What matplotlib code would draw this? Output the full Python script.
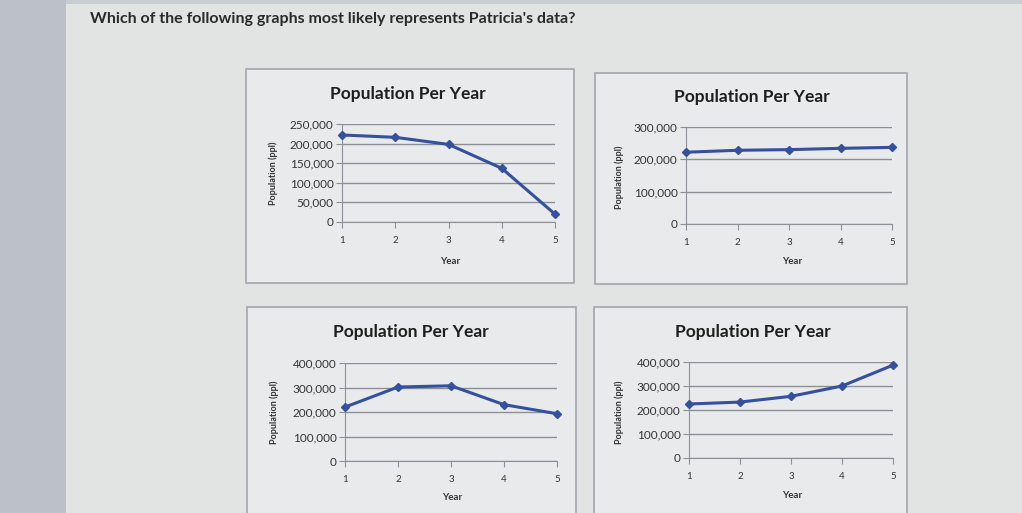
import matplotlib
matplotlib.use("Agg")
import matplotlib.pyplot as plt
from matplotlib.patches import Rectangle
from matplotlib.ticker import FuncFormatter

W, H = 1022, 513

years = [1, 2, 3, 4, 5]
pop_a = [222000, 216000, 198000, 137000, 20000]
pop_b = [222000, 228000, 230000, 234000, 237000]
pop_c = [220000, 302000, 307000, 230000, 193000]
pop_d = [225000, 233000, 257000, 300000, 387000]

question = "Which of the following graphs most likely represents Patricia's data?"
chart_title = "Population Per Year"
y_label = "Population (ppl)"
x_label = "Year"

LINE_BLUE = "#34509e"
GRID = "#8c9096"
PAGE = "#e2e3e3"
PANEL = "#e9eaeb"

plt.rcParams['font.family'] = ['Lato', 'DejaVu Sans']


def fx(px):
    return px / W


def fy(py):
    return 1 - py / H


def add_panel(fig, box, plot, data, ymax, ystep, title_xy, ylab_xy, xlab_xy):
    # box / plot: (left, top, right, bottom) in pixels
    l, t, r, b = box
    fig.add_artist(Rectangle((fx(l), fy(b)), fx(r - l), (b - t) / H,
                             transform=fig.transFigure, facecolor=PANEL,
                             edgecolor="#a2a6ab", linewidth=1.2, zorder=0))
    l, t, r, b = plot
    ax = fig.add_axes([fx(l), fy(b), fx(r - l), (b - t) / H])
    ax.set_facecolor("none")
    ax.plot(years, data, color=LINE_BLUE, linewidth=2.2, marker="D",
            markersize=4.5, clip_on=False, zorder=3)
    ax.set_xlim(1, 5)
    ax.set_ylim(0, ymax)
    ax.set_yticks(range(0, ymax + 1, ystep))
    ax.set_xticks(years)
    ax.yaxis.set_major_formatter(FuncFormatter(lambda v, p: f"{int(v):,}"))
    ax.grid(axis="y", color=GRID, linewidth=1.0)
    ax.set_axisbelow(True)
    for side in ("top", "right"):
        ax.spines[side].set_visible(False)
    ax.spines["left"].set_color(GRID)
    ax.spines["bottom"].set_color(GRID)
    ax.tick_params(axis="y", length=4, color=GRID, labelsize=8.5,
                   labelcolor="#333333", pad=2)
    ax.tick_params(axis="x", length=4, color=GRID, labelsize=7,
                   labelcolor="#333333", pad=6)
    fig.text(fx(title_xy[0]), fy(title_xy[1]), chart_title, ha="center",
             va="center", fontsize=12.5, fontweight="bold", color="#1e1e1e")
    fig.text(fx(ylab_xy[0]), fy(ylab_xy[1]), y_label, ha="center", va="center",
             rotation=90, fontsize=6.5, fontweight="bold", color="#333333")
    fig.text(fx(xlab_xy[0]), fy(xlab_xy[1]), x_label, ha="center", va="center",
             fontsize=7, fontweight="bold", color="#333333")
    return ax


fig = plt.figure(figsize=(W / 100, H / 100), dpi=100)
fig.patch.set_facecolor(PAGE)

# darker strip on the left edge and top edge of the photo
fig.add_artist(Rectangle((0, 0), fx(66), 1, transform=fig.transFigure,
                         facecolor="#bcc1c9", edgecolor="none", zorder=0))
fig.add_artist(Rectangle((fx(66), fy(4)), 1, 4 / H, transform=fig.transFigure,
                         facecolor="#c9ccd0", edgecolor="none", zorder=0))

fig.text(fx(90), fy(19), question, ha="left", va="center", fontsize=11.5,
         fontweight="bold", color="#2a2a2a")

add_panel(fig, (246, 69, 574, 283), (342, 124, 555, 222), pop_a, 250000, 50000,
          (408, 94), (273, 173), (450, 262))
add_panel(fig, (595, 73, 907, 284), (686, 127, 892, 224), pop_b, 300000, 100000,
          (752, 97), (619, 177), (792, 262))
add_panel(fig, (247, 307, 576, 520), (345, 363, 557, 461), pop_c, 400000, 100000,
          (411, 332), (274, 412), (452, 498))
add_panel(fig, (594, 307, 907, 520), (689, 362, 893, 458), pop_d, 400000, 100000,
          (753, 332), (619, 412), (792, 495))

fig.savefig("out.png", dpi=100, facecolor=fig.get_facecolor())
